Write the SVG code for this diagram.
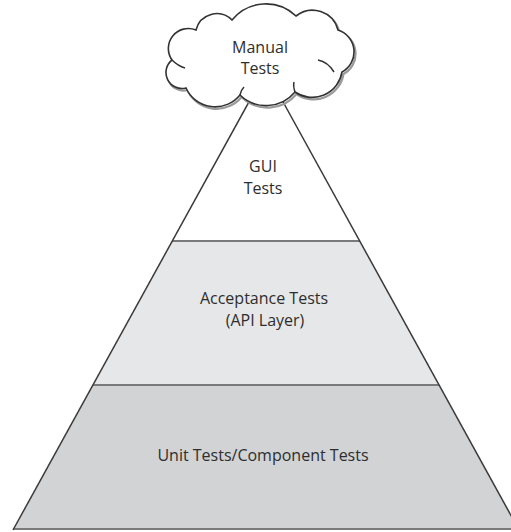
<svg xmlns="http://www.w3.org/2000/svg" width="511" height="532" viewBox="0 0 511 532">
  <style>
    .lbl { font-family: "Open Sans", "DejaVu Sans", sans-serif; font-size: 16px; fill: #2e2e2e; text-anchor: middle; }
    .side { stroke: #3a3a3a; stroke-width: 1.5; fill: none; }
    .div { stroke: #7a7a7a; stroke-width: 2; }
    .cloud { fill: #ffffff; stroke: #333333; stroke-width: 1.6; }
    .cloudshadow { fill: none; stroke: #9a9a9a; stroke-width: 2.2; }
    .curl { fill: none; stroke: #333333; stroke-width: 1.5; }
  </style>
  <rect width="511" height="532" fill="#ffffff"/>
  <g id="unit-tests">
    <polygon points="93,385 439,385 519,530 13,530" fill="#d1d3d4"/>
    <line class="div" x1="13" y1="529" x2="511" y2="529"/>
    <text class="lbl" x="263" y="461">Unit Tests/Component Tests</text>
  </g>
  <g id="acceptance-tests">
    <polygon points="172,241 360,241 439,385 93,385" fill="#e6e7e8"/>
    <line class="div" x1="93" y1="385" x2="439" y2="385"/>
    <text class="lbl" x="264" y="304">Acceptance Tests</text>
    <text class="lbl" x="265" y="326">(API Layer)</text>
  </g>
  <g id="gui-tests">
    <polygon points="266,71 360,241 172,241" fill="#ffffff"/>
    <line class="div" x1="172" y1="241" x2="360" y2="241"/>
    <text class="lbl" x="263" y="172">GUI</text>
    <text class="lbl" x="263" y="194">Tests</text>
  </g>
  <g id="connectors">
    <line class="side" x1="266" y1="71" x2="13" y2="530"/>
    <line class="side" x1="266" y1="71" x2="519" y2="530"/>
  </g>
  <g id="manual-tests">
    <path class="cloudshadow" transform="translate(1.5,2)" d="M172,60 A20,20 0 0 1 196,30 A21.4,21.4 0 0 1 232,20 A43.6,43.6 0 0 1 296,16 A26.4,26.4 0 0 1 338,30 A22.9,22.9 0 0 1 342,72 A30.2,30.2 0 0 1 295,92 A37.5,37.5 0 0 1 240,95 A32,32 0 0 1 186,88 A16,16 0 0 1 172,60 Z"/>
    <path class="cloud" d="M172,60 A20,20 0 0 1 196,30 A21.4,21.4 0 0 1 232,20 A43.6,43.6 0 0 1 296,16 A26.4,26.4 0 0 1 338,30 A22.9,22.9 0 0 1 342,72 A30.2,30.2 0 0 1 295,92 A37.5,37.5 0 0 1 240,95 A32,32 0 0 1 186,88 A16,16 0 0 1 172,60 Z"/>
    <path class="curl" d="M172,60 Q178,66 185,68"/>
    <path class="curl" d="M318,60 Q328,62 334,72"/>
    <path class="curl" d="M295,92 Q293,86 294,82"/>
    <path class="curl" d="M240,95 Q241,90 244,87"/>
    <text class="lbl" x="260" y="53">Manual</text>
    <text class="lbl" x="260" y="74">Tests</text>
  </g>
</svg>
